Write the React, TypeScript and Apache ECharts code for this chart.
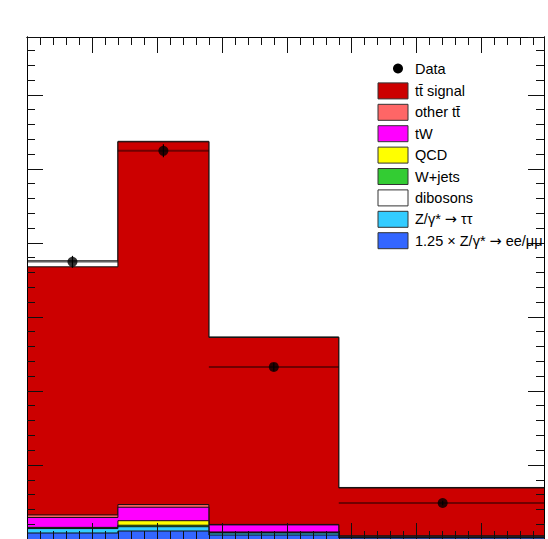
import React, { useEffect, useRef } from "react";
import * as echarts from "echarts";

// ---- data ----
const binEdges = [0, 70, 140, 240, 400];
// stacked backgrounds, bottom to top
const zeeScaled = [81, 108, 54, 14];
const zTauTau = [60, 58, 27, 7];
const wJets = [10, 20, 7, 4];
const qcd = [6, 61, 7, 4];
const tW = [134, 182, 95, 10];
const otherTT = [34, 36, 7, 4];
const ttSignal = [3351, 4899, 2525, 646];
const dibosons = [81, 7, 7, 7];
// data points
const dataValues = [3743, 5243, 2324, 486];
const dataErrors = [81, 88, 54, 30];

const legendLabels = [
  "tt\u0304 signal",
  "other tt\u0304",
  "tW",
  "QCD",
  "W+jets",
  "dibosons",
  "Z/\u03b3* \u2192 \u03c4\u03c4",
  "1.25 \u00d7 Z/\u03b3* \u2192 ee/\u03bc\u03bc",
];

const layers = [
  { name: legendLabels[7], values: zeeScaled, color: "#3366ff" },
  { name: legendLabels[6], values: zTauTau, color: "#33ccff" },
  { name: legendLabels[4], values: wJets, color: "#33cc33" },
  { name: legendLabels[3], values: qcd, color: "#ffff00" },
  { name: legendLabels[2], values: tW, color: "#ff00ff" },
  { name: legendLabels[1], values: otherTT, color: "#ff6666" },
  { name: legendLabels[0], values: ttSignal, color: "#cc0000" },
  { name: legendLabels[5], values: dibosons, color: "#ffffff" },
];

const legendColors = ["#cc0000", "#ff6666", "#ff00ff", "#ffff00", "#33cc33", "#ffffff", "#33ccff", "#3366ff"];

const X_MAX = 398;
const Y_MAX = 6780;
const FONT = "Liberation Sans, Arial, Helvetica, sans-serif";

function richLabel(lab: string) {
  // render the arrow with a font whose arrow is wider
  return lab
    .split("\u2192")
    .map((p) => `{a|${p}}`)
    .join("{b|\u2192}");
}

export default function App() {
  const ref = useRef<HTMLDivElement>(null);

  useEffect(() => {
    if (!ref.current) return;
    const chart = echarts.init(ref.current, null, { renderer: "svg" });

    const nb = binEdges.length - 1;
    const cum: number[][] = [];
    layers.forEach((l, k) => {
      cum.push(l.values.map((v, i) => v + (k > 0 ? cum[k - 1][i] : 0)));
    });
    const drawOrder = layers.map((_, k) => layers.length - 1 - k);
    const centers = dataValues.map((_, i) => (binEdges[i] + binEdges[i + 1]) / 2);

    const mkX = (position: string, interval: number, len: number) => ({
      type: "value",
      position,
      min: 0,
      max: X_MAX,
      interval,
      z: 10,
      axisLine: { show: true, onZero: false, lineStyle: { color: "#000", width: 1 } },
      axisTick: { show: true, inside: true, length: len, lineStyle: { color: "#111", width: 1 } },
      axisLabel: { show: false },
      splitLine: { show: false },
    });
    const mkY = (position: string, interval: number, len: number) => ({
      type: "value",
      position,
      min: 0,
      max: Y_MAX,
      interval,
      z: 10,
      axisLine: { show: true, onZero: false, lineStyle: { color: "#000", width: 1 } },
      axisTick: { show: true, inside: true, length: len, lineStyle: { color: "#111", width: 1 } },
      axisLabel: { show: false },
      splitLine: { show: false },
    });

    const rich = {
      a: { fontSize: 14.5, fontFamily: FONT, color: "#000" },
      b: { fontSize: 14.5, fontFamily: "DejaVu Sans", color: "#000" },
    };

    const legendGraphics: any[] = [];
    const lx = 378;
    const tx = 415;
    legendGraphics.push({
      type: "circle",
      shape: { cx: 398, cy: 68.5, r: 5 },
      style: { fill: "#000" },
      z: 100,
    });
    legendGraphics.push({
      type: "text",
      x: tx,
      y: 68.5,
      style: { text: "Data", fill: "#000", fontSize: 14.5, fontFamily: FONT, verticalAlign: "middle" },
      z: 100,
    });
    legendLabels.forEach((lab, i) => {
      const cy = 90.9 + 21.4 * i;
      legendGraphics.push({
        type: "rect",
        shape: { x: lx, y: cy - 8, width: 30, height: 16 },
        style: { fill: legendColors[i], stroke: "#333", lineWidth: 1 },
        z: 100,
      });
      legendGraphics.push({
        type: "text",
        x: tx,
        y: cy,
        style: {
          text: lab.includes("\u2192") ? richLabel(lab) : lab,
          rich: lab.includes("\u2192") ? rich : undefined,
          fill: "#000",
          fontSize: 14.5,
          fontFamily: FONT,
          verticalAlign: "middle",
        },
        z: 100,
      });
    });

    chart.setOption({
      animation: false,
      backgroundColor: "#fff",
      grid: { left: 27, right: 4, top: 37, bottom: 21, containLabel: false, outerBoundsMode: "none" },
      xAxis: [mkX("bottom", 10, 8), mkX("bottom", 50, 16), mkX("top", 10, 8), mkX("top", 50, 16)],
      yAxis: [mkY("left", 200, 8), mkY("left", 1000, 16), mkY("right", 200, 8), mkY("right", 1000, 16)],
      graphic: legendGraphics,
      series: [
        {
          type: "custom",
          name: "stack",
          xAxisIndex: 0,
          yAxisIndex: 0,
          clip: true,
          z: 2,
          data: drawOrder.map((k) => [k, 0]),
          encode: { x: 1, y: 1 },
          renderItem: (params: any, api: any) => {
            const k = drawOrder[params.dataIndex];
            const c = cum[k];
            const pts: number[][] = [];
            pts.push(api.coord([binEdges[0], 0]));
            for (let i = 0; i < nb; i++) {
              pts.push(api.coord([binEdges[i], c[i]]));
              pts.push(api.coord([binEdges[i + 1], c[i]]));
            }
            pts.push(api.coord([binEdges[nb], 0]));
            return {
              type: "group",
              children: [
                { type: "polygon", shape: { points: pts }, style: { fill: layers[k].color, stroke: null } },
                { type: "polyline", shape: { points: pts }, style: { fill: null, stroke: "#111", lineWidth: 1 } },
              ],
            };
          },
        },
        {
          type: "custom",
          name: "dataErr",
          xAxisIndex: 0,
          yAxisIndex: 0,
          clip: true,
          z: 4,
          data: dataValues.map((v, i) => [centers[i], v]),
          renderItem: (params: any, api: any) => {
            const i = params.dataIndex;
            const v = dataValues[i];
            const e = dataErrors[i];
            const a = api.coord([binEdges[i], v]);
            const b = api.coord([binEdges[i + 1], v]);
            const up = api.coord([centers[i], v + e]);
            const dn = api.coord([centers[i], v - e]);
            return {
              type: "group",
              children: [
                {
                  type: "line",
                  shape: { x1: a[0], y1: a[1], x2: b[0], y2: b[1] },
                  style: { stroke: "rgba(0,0,0,0.45)", lineWidth: 2 },
                },
                {
                  type: "line",
                  shape: { x1: up[0], y1: up[1], x2: dn[0], y2: dn[1] },
                  style: { stroke: "#000", lineWidth: 1.2 },
                },
              ],
            };
          },
        },
        {
          type: "scatter",
          name: "Data",
          xAxisIndex: 0,
          yAxisIndex: 0,
          z: 5,
          symbol: "circle",
          symbolSize: 10,
          itemStyle: { color: "#000" },
          data: dataValues.map((v, i) => [centers[i], v]),
        },
      ],
    });

    return () => chart.dispose();
  }, []);

  return (
    <div
      ref={ref}
      style={{ position: "fixed", left: 0, top: 0, width: 548, height: 560, background: "#fff" }}
    />
  );
}
